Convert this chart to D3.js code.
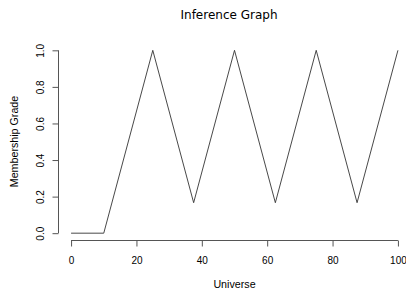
<!DOCTYPE html>
<html>
<head>
<meta charset="utf-8">
<script src="https://cdn.jsdelivr.net/npm/d3@7"></script>
<style>
    body { margin: 0; background: #fff; }
    .tick text { font-family: "Liberation Sans", Arial, sans-serif; font-size: 10px; fill: #000; }
</style>
</head>
<body>
<div class="svg-container"></div>
<script>
// Inference graph data (vertices of the membership curve).
const universe = [0, 10, 25, 37.5, 50, 62.5, 75, 87.5, 100];
const grade = [0, 0, 1, 0.1667, 1, 0.1667, 1, 0.1667, 1];
const xTicks = [0, 20, 40, 60, 80, 100];
const yTicks = [0, 0.2, 0.4, 0.6, 0.8, 1.0];

const WIDTH = 406;
const HEIGHT = 290;
const AXIS_COLOR = "#555";

const svg = d3
    .select(".svg-container")
    .append("svg")
    .attr("width", WIDTH)
    .attr("height", HEIGHT);

// R style: 4% padding around the data range.
const x = d3.scaleLinear().domain([-4, 104]).range([58, 411]);
const y = d3.scaleLinear().domain([-0.04, 1.04]).range([240.5, 43]);

// Bottom axis, domain line only from first to last tick.
const xAxis = svg
    .append("g")
    .attr("transform", "translate(0," + 240.5 + ")")
    .call(d3.axisBottom(x).tickValues(xTicks).tickSize(6).tickPadding(10).tickFormat(d3.format("d")));
xAxis.select(".domain").attr("d", "M" + x(0) + ",0H" + x(100)).attr("stroke", AXIS_COLOR);
xAxis.selectAll(".tick line").attr("stroke", AXIS_COLOR);

// Left axis with rotated labels.
const yAxis = svg
    .append("g")
    .attr("transform", "translate(" + 58.5 + ",0)")
    .call(d3.axisLeft(y).tickValues(yTicks).tickSize(6).tickFormat(d3.format(".1f")));
yAxis.select(".domain").attr("d", "M0," + y(0) + "V" + y(1)).attr("stroke", AXIS_COLOR);
yAxis.selectAll(".tick line").attr("stroke", AXIS_COLOR);
yAxis
    .selectAll(".tick text")
    .attr("x", null)
    .attr("dy", null)
    .attr("text-anchor", "middle")
    .attr("transform", "translate(-15,0) rotate(-90)");

const line = d3
    .line()
    .x((d, i) => x(universe[i]))
    .y((d) => y(d));

svg
    .append("path")
    .datum(grade)
    .attr("fill", "none")
    .attr("stroke", "#333")
    .attr("stroke-width", 0.9)
    .attr("d", line);

svg
    .append("text")
    .attr("x", 229)
    .attr("y", 19)
    .attr("text-anchor", "middle")
    .attr("font-family", "DejaVu Sans, sans-serif")
    .attr("font-size", 12)
    .text("Inference Graph");

svg
    .append("text")
    .attr("x", 234.5)
    .attr("y", 288)
    .attr("text-anchor", "middle")
    .attr("font-family", "Liberation Sans, Arial, sans-serif")
    .attr("font-size", 10.7)
    .text("Universe");

svg
    .append("text")
    .attr("transform", "translate(18," + 141.5 + ") rotate(-90)")
    .attr("text-anchor", "middle")
    .attr("font-family", "Liberation Sans, Arial, sans-serif")
    .attr("font-size", 10.7)
    .text("Membership Grade");
</script>
</body>
</html>
